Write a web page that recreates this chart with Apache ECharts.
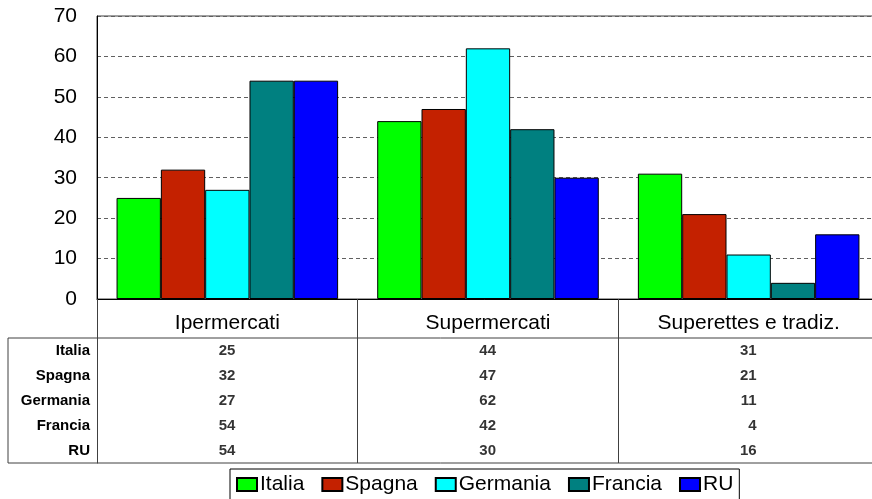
<!DOCTYPE html>
<html>
<head>
<meta charset="utf-8">
<script src="https://cdn.jsdelivr.net/npm/echarts@6/dist/echarts.min.js"></script>
<style>
  html, body { margin: 0; padding: 0; background: #fff; }
  #chart { width: 872px; height: 499px; }
</style>
</head>
<body>
<div id="chart"></div>
<script>
// categorie e paesi
const categorie = ["Ipermercati", "Supermercati", "Superettes e tradiz."];
const paesi = ["Italia", "Spagna", "Germania", "Francia", "RU"];
const colori = ["#00ff00", "#c42100", "#00ffff", "#008080", "#0000ff"];

// valori per paese (stesso ordine delle categorie)
const italia = [25, 44, 31];
const spagna = [32, 47, 21];
const germania = [27, 62, 11];
const francia = [54, 42, 4];
const ru = [54, 30, 16];

const yTicks = [0, 10, 20, 30, 40, 50, 60, 70];

const valori = [italia, spagna, germania, francia, ru];
const font = "Arial, 'Liberation Sans', sans-serif";

// celle della tabella: [categoria, paese, valore]
let celle = [];
paesi.forEach((p, j) => {
  categorie.forEach((c, i) => {
    celle.push([c, p, valori[j][i]]);
  });
});

let myChart = echarts.init(document.getElementById("chart"));
myChart.setOption({
  animation: false,
  textStyle: { fontFamily: font },
  grid: [
    {
      // l'area del grafico esce oltre il bordo destro
      left: 97, right: -7, top: 16, bottom: 200,
      outerBoundsMode: "none",
      show: true, borderColor: "#404040", borderWidth: 1,
    },
    {
      // tabella dati
      left: 97, right: -7, top: 338, bottom: 36,
      outerBoundsMode: "none",
    },
  ],
  graphic: [
    {
      type: "rect",
      shape: { x: 8, y: 338, width: 900, height: 125 },
      style: { fill: "none", stroke: "#404040", lineWidth: 1 },
      z: 10,
    },
  ],
  legend: {
    data: paesi,
    left: 230, top: 469,
    orient: "horizontal",
    borderColor: "#000", borderWidth: 1,
    padding: [5, 6, 8, 6],
    itemGap: 17, itemWidth: 20, itemHeight: 13,
    icon: "rect",
    textStyle: { fontSize: 21, color: "#000", fontFamily: font, padding: [0, 0, 0, -2] },
  },
  xAxis: [
    {
      type: "category",
      gridIndex: 0,
      data: categorie,
      axisLine: { lineStyle: { color: "#000" } },
      axisTick: { show: true, interval: 0, length: 39, lineStyle: { color: "#404040" } },
      axisLabel: { fontSize: 21, color: "#000", margin: 14, fontFamily: font },
      splitLine: { show: false },
    },
    {
      type: "category",
      gridIndex: 1,
      data: categorie,
      axisLine: { show: false },
      axisTick: { show: false },
      axisLabel: { show: false },
      splitLine: { show: true, interval: 0, lineStyle: { color: "#404040" } },
    },
  ],
  yAxis: [
    {
      type: "value",
      gridIndex: 0,
      min: yTicks[0], max: yTicks[yTicks.length - 1], interval: 10,
      axisLine: { show: true, lineStyle: { color: "#000" } },
      axisTick: { show: false },
      axisLabel: { fontSize: 21, color: "#000", margin: 20, fontFamily: font },
      splitLine: { show: true, lineStyle: { color: "#606060", type: [4, 3] } },
    },
    {
      type: "category",
      gridIndex: 1,
      data: paesi,
      inverse: true,
      axisLine: { show: true, lineStyle: { color: "#404040" } },
      axisTick: { show: false },
      axisLabel: { fontSize: 15, fontWeight: "bold", color: "#000", margin: 7, fontFamily: font },
      splitLine: { show: false },
    },
  ],
  series: paesi.map((p, j) => ({
    name: p,
    type: "bar",
    xAxisIndex: 0, yAxisIndex: 0,
    data: valori[j],
    barGap: "0%",
    barCategoryGap: "15%",
    itemStyle: { color: colori[j], borderColor: "#000", borderWidth: 1 },
  })).concat([
    {
      name: "tabella",
      type: "scatter",
      xAxisIndex: 1, yAxisIndex: 1,
      data: celle,
      symbolSize: 0,
      label: {
        show: true,
        position: "inside",
        align: "right",
        offset: [8, 0],
        fontSize: 15, fontWeight: "bold", color: "#000", fontFamily: font,
        formatter: (params) => params.value[2],
      },
    },
  ]),
});
</script>
</body>
</html>
